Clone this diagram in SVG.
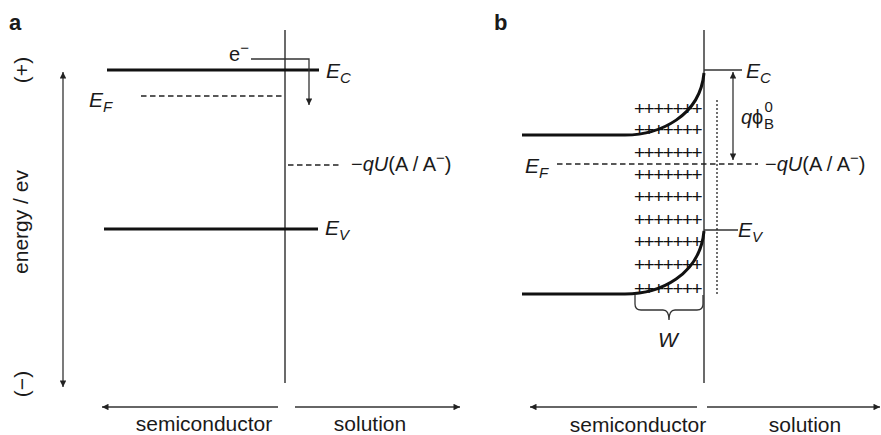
<svg xmlns="http://www.w3.org/2000/svg" width="881" height="435" viewBox="0 0 881 435">
<style>
text{font-family:"Liberation Sans",Arial,Helvetica,sans-serif;font-size:20px;fill:#1a1a1a}
.it{font-style:italic}
.E{font-style:italic;font-size:21px}
.sub{font-size:15px}
.lab{font-size:21px}
.pl{font-size:19px;letter-spacing:-1.5px;fill:#111}
.panel{font-weight:bold;font-size:22px}
.thick{stroke:#111;stroke-width:3;fill:none}
.thin{stroke:#333;stroke-width:1.3;fill:none}
.iface{stroke:#3a3a3a;stroke-width:1.5;fill:none}
.dash{stroke:#222;stroke-width:1.5;stroke-dasharray:5.5 3.5;fill:none}
.dot{stroke:#222;stroke-width:1.3;stroke-dasharray:2 2;fill:none}
</style>
<defs>
<marker id="ah" viewBox="0 0 10 10" refX="10" refY="5" markerWidth="11" markerHeight="6.5" markerUnits="userSpaceOnUse" orient="auto-start-reverse">
<path d="M0,0 L10,5 L0,10 z" fill="#222"/>
</marker>
</defs>

<g id="panel-a">
<text id="label-a" class="panel" x="9" y="30">a</text>
<g id="axis-energy">
<text class="lab" transform="translate(29,70) rotate(-90)" text-anchor="middle">(+)</text>
<text class="lab" transform="translate(28,222) rotate(-90)" text-anchor="middle">energy / ev</text>
<text class="lab" transform="translate(29,384) rotate(-90)" text-anchor="middle">(−)</text>
</g>
<g id="a-interface"><line class="iface" x1="285" y1="30" x2="285" y2="383"/></g>
<g id="a-Ec">
<line class="thick" x1="107" y1="70" x2="319" y2="70"/>
<text class="E" x="326" y="78">E<tspan class="sub" dy="5">C</tspan></text>
</g>
<g id="a-Ef">
<line class="dash" x1="141" y1="96" x2="285" y2="96"/>
<text class="E" x="89" y="107">E<tspan class="sub" dy="5">F</tspan></text>
</g>
<g id="a-redox">
<line class="dash" x1="288" y1="165" x2="340" y2="165"/>
<text x="351" y="171">−<tspan class="it">qU</tspan>(A / A<tspan class="sub" dy="-8">−</tspan><tspan dy="8">)</tspan></text>
</g>
<g id="a-Ev">
<line class="thick" x1="104" y1="229" x2="318" y2="229"/>
<text class="E" x="325" y="235">E<tspan class="sub" dy="5">V</tspan></text>
</g>
<g id="a-electron">
<text x="229" y="61">e<tspan class="sub" dy="-8">−</tspan></text>
</g>
<g id="a-bottom">
<text class="lab" x="204" y="431" text-anchor="middle">semiconductor</text>
<text class="lab" x="370" y="431" text-anchor="middle">solution</text>
</g>
</g>

<g id="panel-b">
<text id="label-b" class="panel" x="494" y="30">b</text>
<g id="b-interface"><line class="iface" x1="704" y1="30" x2="704" y2="383"/></g>
<g id="b-charges">
<text class="pl" x="634" y="114.5">+++++++</text>
<text class="pl" x="634" y="135.5">+++++++</text>
<text class="pl" x="634" y="158.5">+++++++</text>
<text class="pl" x="634" y="180.5">+++++++</text>
<text class="pl" x="634" y="202.5">+++++++</text>
<text class="pl" x="634" y="225.5">+++++++</text>
<text class="pl" x="634" y="247.5">+++++++</text>
<text class="pl" x="634" y="270.5">+++++++</text>
<text class="pl" x="634" y="294.5">+++++++</text>
</g>
<g id="b-Ec">
<path class="thick" d="M522,135 L625,135 C660,135 700,116 704,73"/>
<line class="thin" x1="704" y1="70" x2="742" y2="70"/>
<text class="E" x="746" y="78">E<tspan class="sub" dy="5">C</tspan></text>
</g>
<g id="b-Ev">
<path class="thick" d="M522,294 L625,294 C660,294 700,275 704,231"/>
<line class="thin" x1="704" y1="230" x2="738" y2="230" stroke="#555"/>
<text class="E" x="738" y="237">E<tspan class="sub" dy="5">V</tspan></text>
</g>
<g id="b-Ef">
<line class="dash" x1="557" y1="164" x2="758" y2="164"/>
<text class="E" x="525" y="173">E<tspan class="sub" dy="5">F</tspan></text>
<text x="765" y="171">−<tspan class="it">qU</tspan>(A / A<tspan class="sub" dy="-8">−</tspan><tspan dy="8">)</tspan></text>
</g>
<g id="b-helmholtz"><line class="dot" x1="717" y1="100" x2="717" y2="295"/></g>
<g id="b-barrier">
<text class="it" x="741" y="124" font-size="20">q</text>
<text x="752" y="124" font-size="19">ϕ</text>
<text class="sub" x="764" y="129">B</text>
<text class="sub" x="764.5" y="112">0</text>
</g>
<g id="b-width">
<path class="thin" d="M635,295 L635,304 Q635,310 641,310 L663,310 Q669,310 669,320 Q669,310 675,310 L697,310 Q703,310 703,304 L703,295"/>
<text class="E" x="668" y="347" text-anchor="middle">W</text>
</g>
<g id="b-bottom">
<text class="lab" x="638" y="432" text-anchor="middle">semiconductor</text>
<text class="lab" x="805" y="432" text-anchor="middle">solution</text>
</g>
</g>

<g id="connectors">
<line class="thin" x1="63" y1="72" x2="63" y2="387" marker-start="url(#ah)" marker-end="url(#ah)"/>
<polyline class="thin" points="251,59 309,59 309,105" marker-end="url(#ah)"/>
<line class="thin" x1="278" y1="407" x2="102" y2="407" marker-end="url(#ah)"/>
<line class="thin" x1="295" y1="407" x2="460" y2="407" marker-end="url(#ah)"/>
<line class="thin" x1="733" y1="72" x2="733" y2="160" marker-start="url(#ah)" marker-end="url(#ah)"/>
<line class="thin" x1="697" y1="407" x2="530" y2="407" marker-end="url(#ah)"/>
<line class="thin" x1="707" y1="407" x2="880" y2="407" marker-end="url(#ah)"/>
</g>
</svg>
